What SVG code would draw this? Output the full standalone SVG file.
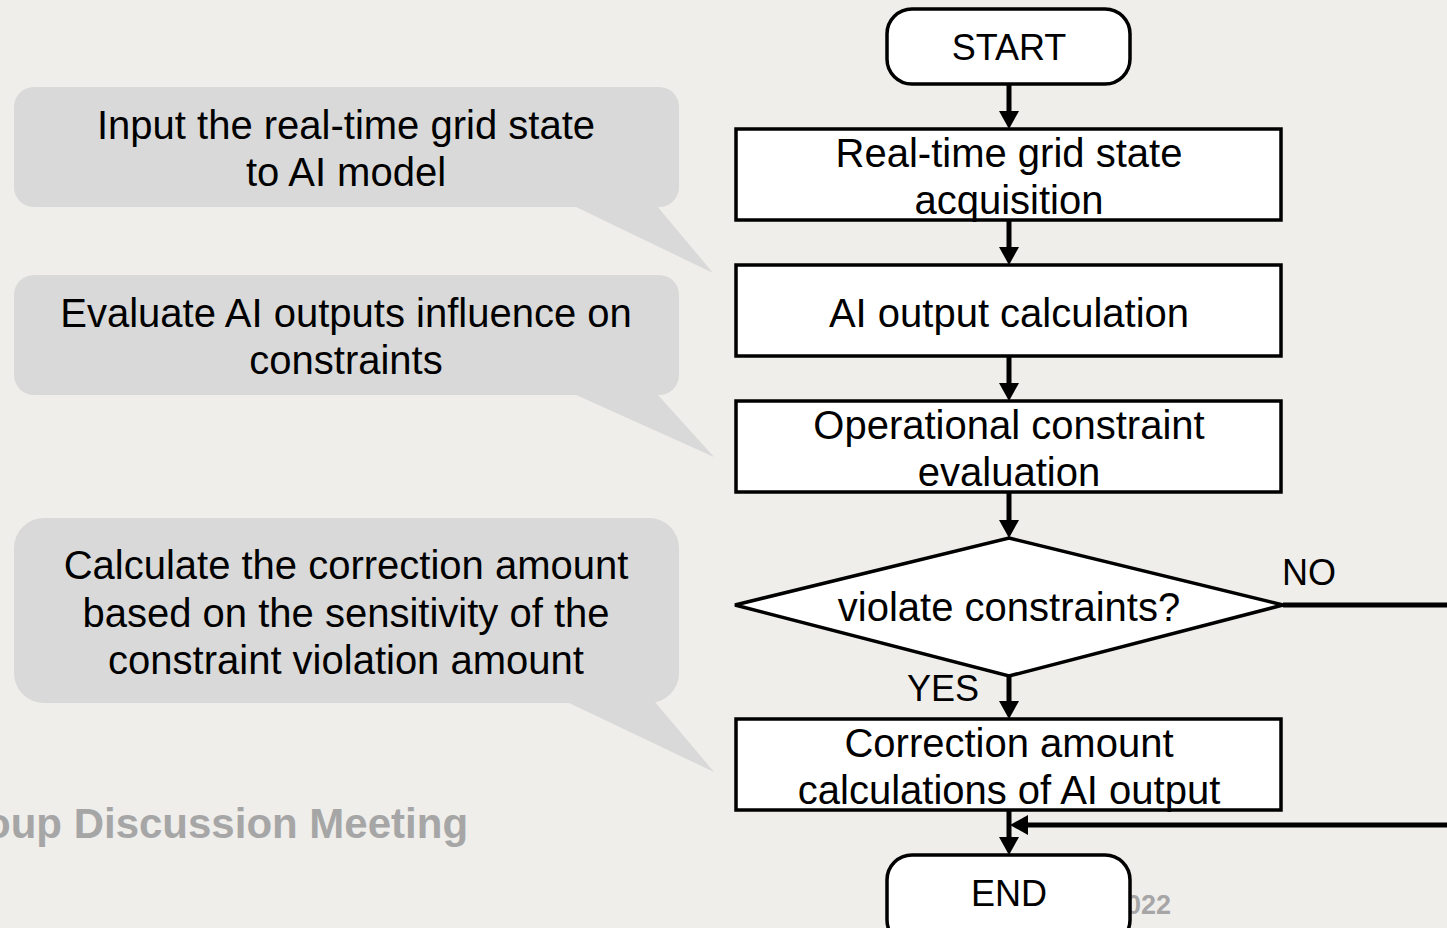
<svg xmlns="http://www.w3.org/2000/svg" width="1447" height="928" viewBox="0 0 1447 928">
<defs>
<style>
.bg{fill:#efeeeb}
.callout{fill:#d9d9d9}
.ct{font-family:"Liberation Sans",Arial,sans-serif;font-size:40px;fill:#000;text-anchor:middle}
.box{fill:#fff;stroke:#000;stroke-width:3.5}
.ft{font-family:"Liberation Sans",Arial,sans-serif;font-size:40px;fill:#000;text-anchor:middle}
.term{font-family:"Liberation Sans",Arial,sans-serif;font-size:36px;fill:#000;text-anchor:middle}
.lbl{font-family:"Liberation Sans",Arial,sans-serif;font-size:36px;fill:#000}
.conn{fill:none;stroke:#000;stroke-width:5}
.gray{font-family:"Liberation Sans",Arial,sans-serif;font-weight:bold;fill:#a6a6a6}
</style>
<marker id="arr" markerUnits="userSpaceOnUse" viewBox="0 0 18 20" refX="0" refY="10" markerWidth="18" markerHeight="20" orient="auto">
<path d="M0,0 L18,10 L0,20 z" fill="#000"/>
</marker>
</defs>
<rect class="bg" x="0" y="0" width="1447" height="928"/>

<text class="gray" x="-15" y="838" font-size="42">oup Discussion Meeting</text>
<text class="gray" x="1126" y="914" font-size="27">022</text>

<g id="callout1">
<rect class="callout" x="14" y="87" width="665" height="120" rx="20"/>
<polygon class="callout" points="574,206 713,273 657,206"/>
<text class="ct" x="346" y="139">Input the real-time grid state</text>
<text class="ct" x="346" y="186">to AI model</text>
</g>
<g id="callout2">
<rect class="callout" x="14" y="275" width="665" height="120" rx="20"/>
<polygon class="callout" points="574,394 714,457 657,394"/>
<text class="ct" x="346" y="327">Evaluate AI outputs influence on</text>
<text class="ct" x="346" y="374">constraints</text>
</g>
<g id="callout3">
<rect class="callout" x="14" y="518" width="665" height="185" rx="30"/>
<polygon class="callout" points="567,702 714,772 655,702"/>
<text class="ct" x="346" y="579">Calculate the correction amount</text>
<text class="ct" x="346" y="627">based on the sensitivity of the</text>
<text class="ct" x="346" y="674">constraint violation amount</text>
</g>

<g id="connectors">
<path class="conn" d="M1009,84 V111" marker-end="url(#arr)"/>
<path class="conn" d="M1009,220 V247" marker-end="url(#arr)"/>
<path class="conn" d="M1009,356 V383" marker-end="url(#arr)"/>
<path class="conn" d="M1009,492 V520" marker-end="url(#arr)"/>
<path class="conn" d="M1009,676 V701" marker-end="url(#arr)"/>
<path class="conn" d="M1009,810 V837" marker-end="url(#arr)"/>
<path class="conn" d="M1283,605 H1447"/>
<path class="conn" d="M1447,825 H1028" marker-end="url(#arr)"/>
</g>

<g id="start">
<rect class="box" x="887" y="9" width="243" height="75" rx="25"/>
<text class="term" x="1009" y="60">START</text>
</g>
<g id="acquisition">
<rect class="box" x="736" y="129" width="545" height="91"/>
<text class="ft" x="1009" y="167">Real-time grid state</text>
<text class="ft" x="1009" y="214">acquisition</text>
</g>
<g id="ai-output">
<rect class="box" x="736" y="265" width="545" height="91"/>
<text class="ft" x="1009" y="327">AI output calculation</text>
</g>
<g id="evaluation">
<rect class="box" x="736" y="401" width="545" height="91"/>
<text class="ft" x="1009" y="439">Operational constraint</text>
<text class="ft" x="1009" y="486">evaluation</text>
</g>
<g id="decision">
<polygon class="box" points="1009,538 1283,605 1009,676 735,605"/>
<text class="ft" x="1009" y="621">violate constraints?</text>
</g>
<text class="lbl" x="1282" y="585">NO</text>
<text class="lbl" x="907" y="701">YES</text>
<g id="correction">
<rect class="box" x="736" y="719" width="545" height="91"/>
<text class="ft" x="1009" y="757">Correction amount</text>
<text class="ft" x="1009" y="804">calculations of AI output</text>
</g>
<g id="end">
<rect class="box" x="887" y="855" width="243" height="90" rx="25"/>
<text class="term" x="1009" y="906">END</text>
</g>
</svg>
